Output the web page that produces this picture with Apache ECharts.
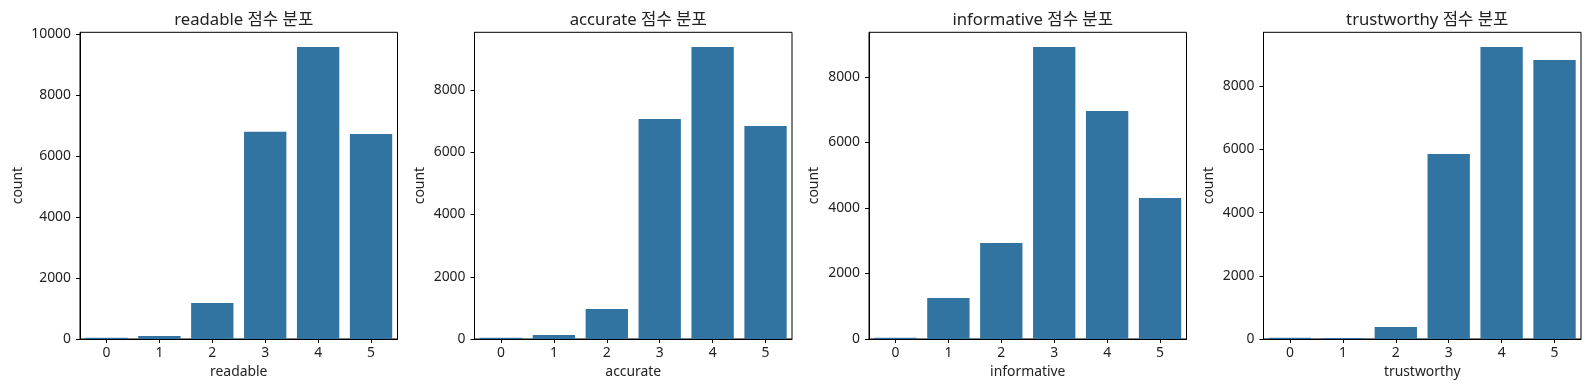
<!DOCTYPE html>
<html>
<head>
<meta charset="utf-8">
<script src="https://cdn.jsdelivr.net/npm/echarts@6/dist/echarts.min.js"></script>
<style>
  html, body { margin: 0; padding: 0; background: #fff; }
  #chart { width: 1590px; height: 390px; }
</style>
</head>
<body>
<div id="chart"></div>
<script>
// ---- data ----
const categories = ['0', '1', '2', '3', '4', '5'];
const readable = [43, 100, 1180, 6790, 9575, 6720];
const accurate = [42, 128, 965, 7070, 9385, 6845];
const informative = [40, 1252, 2930, 8915, 6960, 4305];
const trustworthy = [40, 32, 380, 5857, 9245, 8833];
const panelNames = ['readable', 'accurate', 'informative', 'trustworthy'];
const titleSuffix = ' 점수 분포';
const yTicks1 = [0, 2000, 4000, 6000, 8000, 10000];
const yTicks2 = [0, 2000, 4000, 6000, 8000];
const yTicks3 = [0, 2000, 4000, 6000, 8000];
const yTicks4 = [0, 2000, 4000, 6000, 8000];

// ---- layout ----
const seriesData = [readable, accurate, informative, trustworthy];
const yTickSets = [yTicks1, yTicks2, yTicks3, yTicks4];
const lefts = [80, 474.5, 869, 1263.5];
const gridW = 317.5;
const gridTop = 32.3;
const gridBottom = 51;
const FONT = '"Noto Sans", "Noto Sans CJK KR", sans-serif';
const textColor = '#222';
const barColor = '#3274a1';

const grids = [], xAxes = [], yAxes = [], series = [], titles = [];
panelNames.forEach((name, i) => {
  grids.push({
    left: lefts[i], width: gridW, top: gridTop, bottom: gridBottom,
    show: true, borderColor: '#000', borderWidth: 1, backgroundColor: 'transparent'
  });
  titles.push({
    text: name + titleSuffix,
    left: lefts[i] + gridW / 2,
    top: 7,
    textAlign: 'center',
    textStyle: { fontFamily: FONT, fontSize: 16.7, fontWeight: 'normal', color: textColor }
  });
  xAxes.push({
    type: 'category', gridIndex: i, data: categories,
    name: name, nameLocation: 'middle', nameGap: 25,
    nameTextStyle: { fontFamily: FONT, fontSize: 13.9, color: textColor },
    axisLine: { show: true, lineStyle: { color: '#000', width: 1 } },
    axisTick: { show: true, alignWithLabel: true, length: 4, lineStyle: { color: '#000' } },
    axisLabel: { fontFamily: FONT, fontSize: 13.9, color: textColor, margin: 7 },
    splitLine: { show: false },
    z: 5
  });
  yAxes.push({
    type: 'value', gridIndex: i, min: 0,
    max: v => v.max * 1.05,
    name: 'count', nameLocation: 'middle', nameGap: i === 0 ? 55 : 48,
    nameTextStyle: { fontFamily: FONT, fontSize: 13.9, color: textColor },
    axisLine: { show: true, lineStyle: { color: '#000', width: 1 } },
    axisTick: { show: true, length: 4, lineStyle: { color: '#000' }, customValues: yTickSets[i] },
    axisLabel: {
      fontFamily: FONT, fontSize: 13.9, color: textColor, margin: 9,
      customValues: yTickSets[i], formatter: v => String(v)
    },
    splitLine: { show: false },
    z: 5
  });
  series.push({
    type: 'bar', xAxisIndex: i, yAxisIndex: i,
    data: seriesData[i],
    barCategoryGap: '20%',
    itemStyle: { color: barColor },
    animation: false
  });
});

const chart = echarts.init(document.getElementById('chart'), null, { renderer: 'canvas' });
chart.setOption({
  animation: false,
  backgroundColor: '#fff',
  title: titles,
  grid: grids,
  xAxis: xAxes,
  yAxis: yAxes,
  series: series
});
</script>
</body>
</html>
